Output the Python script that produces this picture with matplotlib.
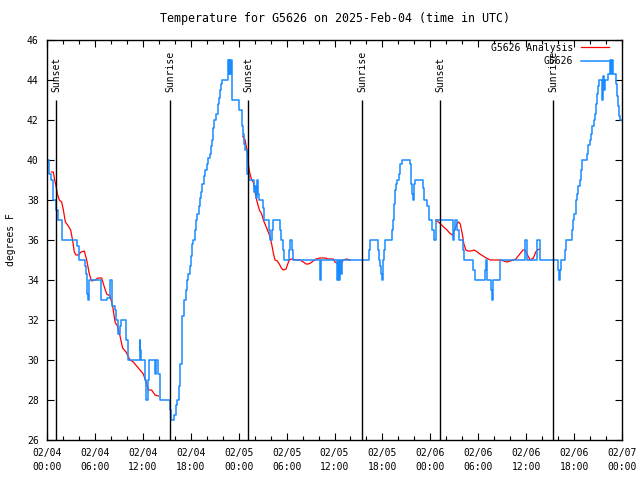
import numpy as np
import matplotlib
matplotlib.use("Agg")
import matplotlib.pyplot as plt

# hours since 2025-02-04 00:00 UTC
obs_hours = [0.0, 0.3, 0.46, 0.8, 1.1, 1.4, 1.84, 1.9, 3.8, 4.05, 4.8, 4.9, 5.0, 5.1, 5.3,
             6.7, 7.5, 7.95, 8.1, 8.5, 8.7, 8.9, 9.1, 9.3, 9.9, 10.2, 11.6, 11.7, 11.8,
             12.3, 12.4, 12.7, 12.8, 13.5, 13.7, 13.9, 14.15, 15.4, 15.55, 15.9, 16.1,
             16.3, 16.5, 16.7, 16.85, 16.95, 17.1, 17.2, 17.4, 17.5, 17.7, 17.85, 18.0,
             18.1, 18.3, 18.5, 18.6, 18.8, 19.0, 19.2, 19.3, 19.4, 19.6, 19.8, 20.0,
             20.2, 20.4, 20.5, 20.6, 20.75, 20.9, 21.2, 21.4, 21.55, 21.65, 21.75, 21.9,
             22.65, 22.75, 22.85, 22.95, 23.05, 23.2, 24.0, 24.4, 24.55, 24.7, 24.85,
             25.0, 25.1, 25.3, 25.9, 26.0, 26.15, 26.3, 26.4, 26.55, 27.05, 27.2, 27.85,
             27.95, 28.15, 28.3, 29.2, 29.3, 29.55, 29.7, 30.3, 30.4, 30.65, 30.8, 34.15,
             34.35, 36.27, 36.45, 36.55, 36.65, 36.85, 36.95, 40.35, 40.5, 41.4, 41.6,
             41.75, 41.85, 41.95, 42.1, 42.2, 42.3, 43.15, 43.3, 43.45, 43.55, 43.7,
             43.85, 44.1, 44.25, 44.4, 45.45, 45.6, 45.75, 45.85, 45.95, 46.05, 47.1,
             47.25, 47.6, 47.85, 48.15, 48.25, 48.4, 48.65, 50.8, 50.95, 51.05, 51.35,
             51.55, 52.05, 52.2, 53.4, 53.55, 54.9, 55.0, 55.15, 55.6, 55.72, 55.8,
             56.75, 59.85, 60.05, 61.35, 61.7, 64.0, 64.1, 64.25, 64.4, 64.9, 65.05,
             65.75, 65.9, 66.05, 66.2, 66.4, 66.55, 66.7, 66.85, 66.95, 67.05, 67.6,
             67.75, 67.95, 68.1, 68.3, 68.45, 68.6, 68.75, 68.85, 69.0, 69.15, 69.55,
             69.65, 69.75, 69.85, 70.3, 70.5, 70.65, 70.75, 70.85, 71.25, 71.35, 71.5,
             71.65, 71.8, 72.0]
obs_temp = [40.0, 39.3, 39.0, 38.0, 37.5, 37.0, 36.5, 36.0, 35.7, 35.0, 34.7, 34.3, 33.3, 33.0, 34.0,
            33.0, 33.1, 34.0, 32.7, 32.5, 32.0, 31.3, 31.7, 32.0, 31.0, 30.0, 31.0, 30.5, 30.0,
            29.0, 28.0, 29.0, 30.0, 29.3, 30.0, 29.3, 28.0, 27.5, 27.0, 27.25, 27.75,
            28.0, 28.7, 29.8, 31.3, 32.2, 32.8, 33.0, 33.5, 34.0, 34.3, 34.7, 35.2,
            35.8, 36.0, 36.5, 37.0, 37.3, 37.7, 38.1, 38.4, 38.8, 39.2, 39.5, 39.8,
            40.1, 40.3, 40.7, 41.0, 41.6, 42.0, 42.3, 42.8, 43.1, 43.5, 43.8, 44.0,
            45.0, 44.3, 45.0, 44.3, 45.0, 43.0, 42.5, 41.7, 41.3, 40.8, 40.5,
            40.0, 39.3, 39.0, 38.4, 38.7, 38.1, 39.0, 38.3, 38.0, 37.6, 37.0, 36.5,
            36.0, 36.5, 37.0, 36.5, 36.0, 35.5, 35.0, 35.5, 36.0, 35.5, 35.0, 34.0,
            35.0, 34.0, 35.0, 34.0, 35.0, 34.3, 35.0, 35.5, 36.0, 35.5, 35.0,
            34.7, 34.3, 34.0, 35.0, 35.5, 36.0, 36.5, 37.0, 37.8, 38.5, 38.8,
            39.0, 39.3, 39.8, 40.0, 39.8, 38.8, 38.3, 38.0, 38.8, 39.0, 38.6,
            38.0, 37.7, 37.0, 36.8, 36.5, 36.0, 37.0, 36.0, 36.5, 37.0, 36.5,
            36.0, 35.5, 35.0, 34.5, 34.0, 34.5, 35.0, 34.0, 33.5, 33.0, 34.0,
            35.0, 36.0, 35.0, 36.0, 35.0, 34.5, 34.0, 34.5, 35.0, 35.5, 36.0,
            36.5, 37.0, 37.3, 38.0, 38.3, 38.7, 39.0, 39.5, 39.8, 40.0, 40.3,
            40.75, 41.0, 41.3, 41.7, 42.0, 42.3, 42.8, 43.3, 43.7, 44.0, 43.0,
            44.2, 43.5, 44.0, 44.3, 45.0, 44.3, 45.0, 44.3, 43.8, 43.2, 42.7,
            42.2, 42.0, 42.0]

# analysis, gaps marked with nan
ana_hours = [0.54, 0.79, 0.96, 1.13, 1.3, 1.54, 1.84, 2.05, 2.3, 2.67, 2.96, 3.2, 3.42, 3.63,
             3.92, 4.26, 4.67, 4.97, 5.3, 5.59, 6.01, 6.43, 6.85, 7.14, 7.47, 7.89, 8.22,
             8.52, 8.81, 9.14, 9.47, 9.89, 10.39, 10.81, 11.23, 11.64, 12.06, 12.4, 12.69,
             13.1, 13.52, 13.94, np.nan,
             24.5, 24.8, 25.0, 25.09, 25.2, 25.42, 25.63, 25.84, 26.05, 26.25, 26.59, 26.88,
             27.09, 27.3, 27.5, 27.7, 27.9, 28.13, 28.34, 28.55, 28.84, 29.09, 29.34, 29.59,
             29.93, 30.1, 30.34, 30.64, 31.05, 31.68, 32.1, 32.43, 32.72, 33.0, 33.35,
             33.68, 34.18, 34.81, 35.23, 35.85, 36.06, 36.48, 36.69, 36.9, 37.1, 37.5,
             37.94, np.nan,
             48.7, 49.0, 49.3, 49.55, 49.8, 50.1, 50.3, 50.55, 50.8, 50.95, 51.15, 51.3,
             51.55, 51.75, 51.9, 52.05, 52.2, 52.45, 52.7, 53.1, 53.5, 53.9, 54.2, 54.6,
             55.0, 55.5, 56.3, 56.7, 57.2, 57.6, 58.0, 58.4, 58.7, 59.0, 59.3, 59.6,
             59.85, 60.1, 60.3, 60.5, 60.7, 60.9, 61.2, 61.4, 61.7]
ana_temp = [39.4, 39.4, 39.0, 38.7, 38.3, 38.0, 37.9, 37.5, 36.9, 36.7, 36.5, 36.0, 35.4, 35.25,
            35.25, 35.4, 35.45, 35.0, 34.3, 33.95, 34.0, 34.1, 34.1, 33.7, 33.3, 33.2, 32.7,
            31.9, 31.7, 31.2, 30.6, 30.4, 30.0, 29.9, 29.7, 29.5, 29.3, 28.9, 28.5,
            28.5, 28.25, 28.2, np.nan,
            41.2, 41.0, 40.6, 40.4, 39.8, 39.3, 39.0, 38.9, 38.4, 38.0, 37.5, 37.3,
            37.0, 36.8, 36.6, 36.4, 36.2, 35.8, 35.35, 35.0, 34.95, 34.8, 34.6, 34.5,
            34.55, 34.75, 35.0, 35.05, 35.0, 35.0, 34.9, 34.8, 34.8, 34.85, 34.95,
            35.05, 35.1, 35.1, 35.05, 35.05, 34.9, 34.8, 34.9, 34.85, 35.0, 35.05,
            35.0, np.nan,
            37.0, 36.9, 36.8, 36.7, 36.6, 36.5, 36.4, 36.3, 36.25, 36.4, 36.6, 36.8,
            36.9, 36.8, 36.5, 36.2, 35.8, 35.5, 35.45, 35.45, 35.5, 35.4, 35.3, 35.2,
            35.1, 35.0, 35.0, 35.0, 34.95, 34.9, 34.95, 35.0, 35.05, 35.2, 35.35, 35.5,
            35.5, 35.3, 35.15, 35.0, 35.05, 35.1, 35.4, 35.5, 35.55]

sun_hours = [1.13, 15.4, 25.2, 39.45, 49.27, 63.4]
sun_labels = ["Sunset", "Sunrise", "Sunset", "Sunrise", "Sunset", "Sunrise"]

tick_hours = list(range(0, 73, 6))
tick_labels = ["02/04\n00:00", "02/04\n06:00", "02/04\n12:00", "02/04\n18:00",
               "02/05\n00:00", "02/05\n06:00", "02/05\n12:00", "02/05\n18:00",
               "02/06\n00:00", "02/06\n06:00", "02/06\n12:00", "02/06\n18:00",
               "02/07\n00:00"]

plt.rcParams["font.family"] = ["DejaVu Sans Mono"]
plt.rcParams["font.size"] = 7

fig = plt.figure(figsize=(6.4, 4.8), dpi=100)
ax = fig.add_axes([47 / 640, 40 / 480, 575 / 640, 400 / 480])

ax.plot(ana_hours, ana_temp, color="#ff0000", lw=0.9, label="G5626 Analysis")
ax.plot(obs_hours, obs_temp, color="#1a8cff", lw=1.1, drawstyle="steps-post", label="G5626")

for h, lab in zip(sun_hours, sun_labels):
    ax.vlines(h, 26, 43.0, color="black", lw=1.0)
    ax.text(h, 43.4, lab, rotation=90, ha="center", va="bottom")

ax.set_xlim(0, 72)
ax.set_ylim(26, 46)
ax.set_xticks(tick_hours)
ax.set_xticklabels(tick_labels, linespacing=1.45)
ax.set_xticks(range(0, 73, 2), minor=True)
ax.set_yticks(range(26, 47, 2))
ax.tick_params(which="both", direction="in", top=True, right=True, width=0.8)
ax.tick_params(which="major", length=5, pad=6)
ax.tick_params(which="minor", length=3)
for s in ax.spines.values():
    s.set_linewidth(1.0)

ax.set_ylabel("degrees F", labelpad=8)
ax.set_title("Temperature for G5626 on 2025-Feb-04 (time in UTC)", pad=13)

ax.legend(loc="upper right", frameon=False, markerfirst=False, borderpad=0,
          borderaxespad=0, handlelength=2.9, handletextpad=0.8, labelspacing=0.35,
          bbox_to_anchor=(0.977, 0.993))

fig.savefig("out.png", dpi=100)
